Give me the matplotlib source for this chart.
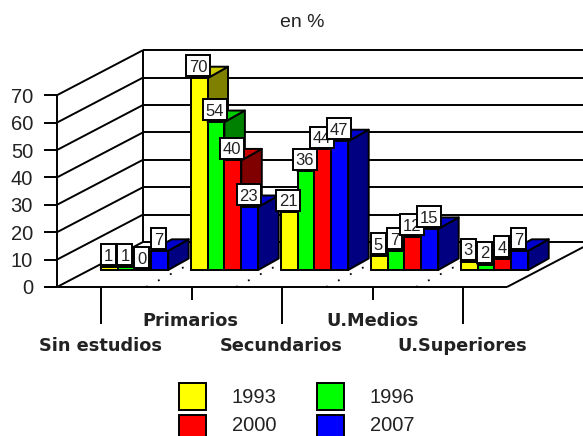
import matplotlib
matplotlib.use("Agg")
import matplotlib.pyplot as plt
from matplotlib.patches import Polygon, Rectangle

categories = ["Sin estudios", "Primarios", "Secundarios", "U.Medios", "U.Superiores"]
years = ["1993", "1996", "2000", "2007"]
v1993 = [1, 70, 21, 5, 3]
v1996 = [1, 54, 36, 7, 2]
v2000 = [0, 40, 44, 12, 4]
v2007 = [7, 23, 47, 15, 7]
series = [v1993, v1996, v2000, v2007]
yticks = [0, 10, 20, 30, 40, 50, 60, 70]

front = ["#ffff00", "#00ff00", "#ff0000", "#0000ff"]
tops = ["#cccc00", "#00cc00", "#cc0000", "#0000cc"]
sides = ["#808000", "#008000", "#800000", "#000080"]

W, H = 583, 436
PX_X = 90.0      # px per category
PX_Y = 2.74      # px per value unit
X0 = 134.4       # px of first category centre
Y0 = 270.0       # px of value 0 in the bar plane

fig = plt.figure(figsize=(W / 100, H / 100), dpi=100)
ax = fig.add_axes([0, 0, 1, 1])
ax.set_xlim(-X0 / PX_X, (W - X0) / PX_X)
ax.set_ylim(-(H - Y0) / PX_Y, Y0 / PX_Y)
ax.axis("off")
plt.rcParams["font.family"] = ["Liberation Sans", "DejaVu Sans"]


def dx(px):
    return px / PX_X


def dy(py):
    return py / PX_Y


def xp(px):
    return (px - X0) / PX_X


def yp(py):
    return (Y0 - py) / PX_Y


lw = 1.4
ink = "#000000"
txt = "#222222"
# geometry of the chart box (floor offset in px)
fx, bx = 57, 143
fy, by = 287, 242
floor_right = 507


def line(xs, ys, z=1, **kw):
    kw.setdefault("lw", lw)
    kw.setdefault("color", ink)
    ax.plot([xp(x) for x in xs], [yp(y) for y in ys], zorder=z,
            solid_capstyle="butt", clip_on=True, **kw)


for t in yticks:
    off = t * PX_Y
    line([44, fx], [fy - off, fy - off])
    line([fx, bx], [fy - off, by - off])
    line([bx, W], [by - off, by - off])
    ax.text(xp(33), yp(fy - off), str(t), ha="right", va="center_baseline",
            fontsize=14.5, color=txt)
line([fx, fx], [fy, fy - 70 * PX_Y])
line([bx, bx], [by, by - 70 * PX_Y])
line([44, floor_right], [fy, fy])
line([floor_right, floor_right + 86], [fy, by])

# floor ticks and dotted floor grid
for i in range(5):
    xl = 101 + i * 90.5
    long_tick = i % 2 == 0
    line([xl, xl], [fy, 324 if long_tick else 300])
for i in range(4):
    xd = 146 + i * 90
    ax.plot([xp(xd), xp(xd + 86)], [yp(fy), yp(by)], color=ink, lw=1.3,
            linestyle=(0, (1, 6.5)), zorder=1.5)

# bars
BW = 16.9 / PX_X
DX, DY = dx(20.5), dy(11.5)
z = 2
for i in range(len(categories)):
    for j, vals in enumerate(series):
        v = vals[i]
        left = i + (j - 2) * BW
        right = left + BW
        ax.add_patch(Polygon([(right, 0), (right + DX, DY), (right + DX, v + DY), (right, v)],
                             closed=True, fc=sides[j], ec=ink, lw=lw, zorder=z, joinstyle="round"))
        ax.add_patch(Polygon([(left, v), (left + DX, v + DY), (right + DX, v + DY), (right, v)],
                             closed=True, fc=tops[j], ec=ink, lw=lw, zorder=z, joinstyle="round"))
        ax.bar(left + BW / 2, v, BW, color=front[j], edgecolor=ink, linewidth=lw, zorder=z + 0.5)
        z += 1

# value labels: white boxes drawn from each value
BOX_H = 21
for i in range(len(categories)):
    for j, vals in enumerate(series):
        v = vals[i]
        cx = i + (j - 1.5) * BW - dx(1)
        label = str(v)
        bw = dx(8.5 * len(label) + 6.5)
        y0 = v + dy(1.8)
        ax.add_patch(Rectangle((cx - bw / 2, y0), bw, dy(BOX_H), fc="white", ec=ink, lw=lw, zorder=z))
        ax.text(cx, y0 + dy(BOX_H / 2), label, ha="center", va="center_baseline",
                fontsize=12, color=txt, zorder=z + 0.5)
        z += 1

# title
ax.text(xp(302), yp(22), "en %", ha="center", va="center", fontsize=14, color=txt)

# category labels
cat_pos = [(100.7, 346), (190, 321), (281, 346), (373, 321), (462, 346)]
for name, (cx, cy) in zip(categories, cat_pos):
    ax.text(xp(cx), yp(cy), name, ha="center", va="center", fontsize=12.8,
            fontweight="bold", family="DejaVu Sans", color=txt)

# legend
leg_pos = [(179, 383, 254, 403), (317, 383, 392, 403), (179, 415, 254, 431), (317, 415, 392, 431)]
for j, (lx, ly, tx, ty) in enumerate(leg_pos):
    ax.add_patch(Rectangle((xp(lx), yp(ly + 27)), dx(27), dy(27), fc=front[j], ec=ink,
                           lw=lw, zorder=z))
    ax.text(xp(tx), yp(ty), years[j], ha="center", va="baseline", fontsize=14.5, color=txt)

fig.savefig("out.png", dpi=100, facecolor="white")
